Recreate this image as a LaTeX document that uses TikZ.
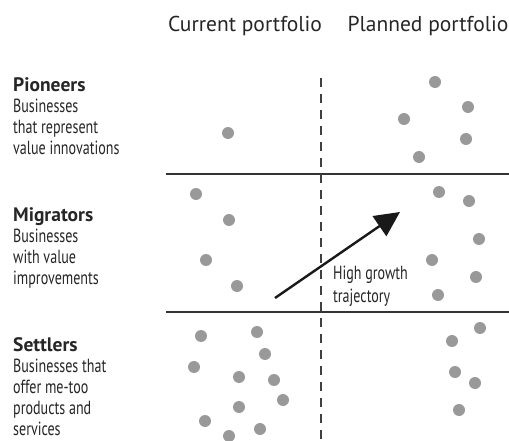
\documentclass[tikz,border=0pt]{standalone}
\usepackage{fontspec}
\setmainfont{PT Sans}
\newfontfamily\narrowfont[FakeStretch=0.74]{PT Sans}
\newfontfamily\boldhead{PT Sans Bold}
\usetikzlibrary{arrows.meta}

\tikzset{
  dot/.style={fill=black!40,draw=none},
  rule/.style={black!80,line width=1.3},
  divide/.style={black!75,line width=1.2,dash pattern=on 9pt off 7pt},
  head/.style={font=\fontsize{21.5}{24}\selectfont,text=black!85,inner sep=0},
  group/.style={font=\narrowfont\fontsize{19}{21}\selectfont,text=black!85,align=left,anchor=north west,inner sep=0},
}
\newcommand{\grouphead}[1]{{\boldhead\fontsize{19.5}{21}\selectfont #1}}

\begin{document}
\begin{tikzpicture}[x=1pt,y=-1pt]
\useasboundingbox (0,0) rectangle (509,441);

% column heads
\node[head,anchor=base] (cur) at (245,32) {Current portfolio};
\node[head,anchor=base] (plan) at (428,32) {Planned portfolio};

% rows
\coordinate (r1w) at (166,174); \coordinate (r1e) at (509,174);
\coordinate (r2w) at (166,312); \coordinate (r2e) at (509,312);
\coordinate (vtop) at (321,78); \coordinate (vbot) at (321,441);
\draw[rule] (r1w)--(r1e);
\draw[rule] (r2w)--(r2e);
\draw[divide] (vtop)--(vbot);

\node[group] (pion) at (13,77) {\grouphead{Pioneers}\\Businesses\\that represent\\value innovations};
\node[group] (migr) at (13,207) {\grouphead{Migrators}\\Businesses\\with value\\improvements};
\node[group] (sett) at (13,337) {\grouphead{Settlers}\\Businesses that\\offer me-too\\products and\\services};

% businesses
\foreach \p in {(228,133),
  (435,82),(468,107),(404,119),(466,139),(419,157),
  (196,194),(229,220),(206,260),(237,286),
  (439,192),(469,201),(479,239),(432,260),(476,277),(438,295),
  (201,336),(257,332),(265,354),(194,367),(239,377),(274,380),
  (283,400),(239,407),(205,421),(229,436),(260,429),
  (480,328),(452,341),(455,372),(475,383),(459,410)}
  \fill[dot] \p circle[radius=6];

% trajectory
\coordinate (from) at (275,298);
\coordinate (to) at (400,212);
\draw[black!90,line width=2.4,-{Triangle[length=25pt,width=24pt]}] (from)--(to);
\node[group,font=\narrowfont\fontsize{19}{23}\selectfont] (traj) at (333,266) {High growth\\trajectory};

\end{tikzpicture}
\end{document}
